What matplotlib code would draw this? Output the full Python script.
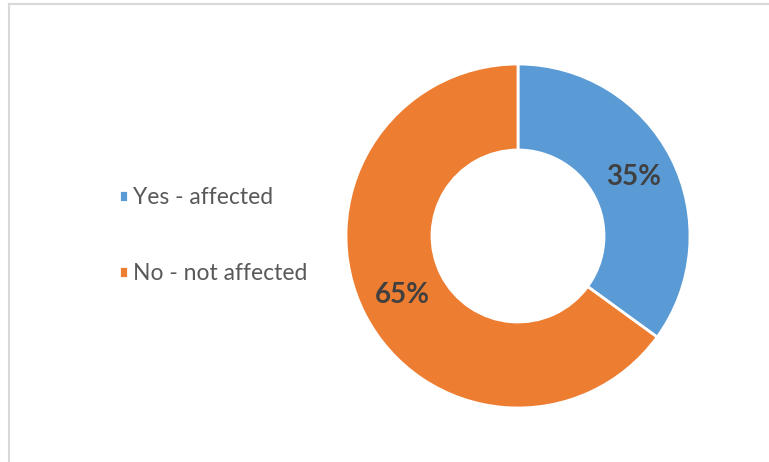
import matplotlib.pyplot as plt
from matplotlib.lines import Line2D

# Данные диаграммы
labels = ["Yes - affected", "No - not affected"]
values = [35, 65]
colors = ["#5B9BD5", "#ED7D31"]

fig = plt.figure(figsize=(7.69, 4.62), dpi=100)
ax = fig.add_axes([0, 0, 1, 1])

wedges, texts, autotexts = ax.pie(
    values, colors=colors, startangle=90, counterclock=False,
    center=(518, 226), radius=172, autopct="%1.0f%%", pctdistance=0.756,
    wedgeprops=dict(width=86, edgecolor="white", linewidth=2),
    textprops=dict(color="#404040", fontsize=20, fontweight="bold", family="Lato"),
)

# pie() меняет пределы осей, поэтому задаём их после
ax.set_xlim(0, 769)
ax.set_ylim(0, 462)
ax.set_aspect("equal")
ax.axis("off")

ax.legend(wedges, labels, loc="center left", bbox_to_anchor=(0.128, 0.49),
          frameon=False, prop=dict(family="Lato", size=16.5),
          handlelength=0.4, handleheight=0.4, handletextpad=0.2,
          labelspacing=2.4, labelcolor="#595959")

# Рамка вокруг графика (верх и лево)
fig.add_artist(Line2D([9 / 769, 9 / 769], [0, 1 - 4 / 462], transform=fig.transFigure,
                      color="#d9d9d9", linewidth=1.5))
fig.add_artist(Line2D([9 / 769, 1], [1 - 4 / 462, 1 - 4 / 462], transform=fig.transFigure,
                      color="#d9d9d9", linewidth=1.5))

fig.savefig("out.png", dpi=100)
